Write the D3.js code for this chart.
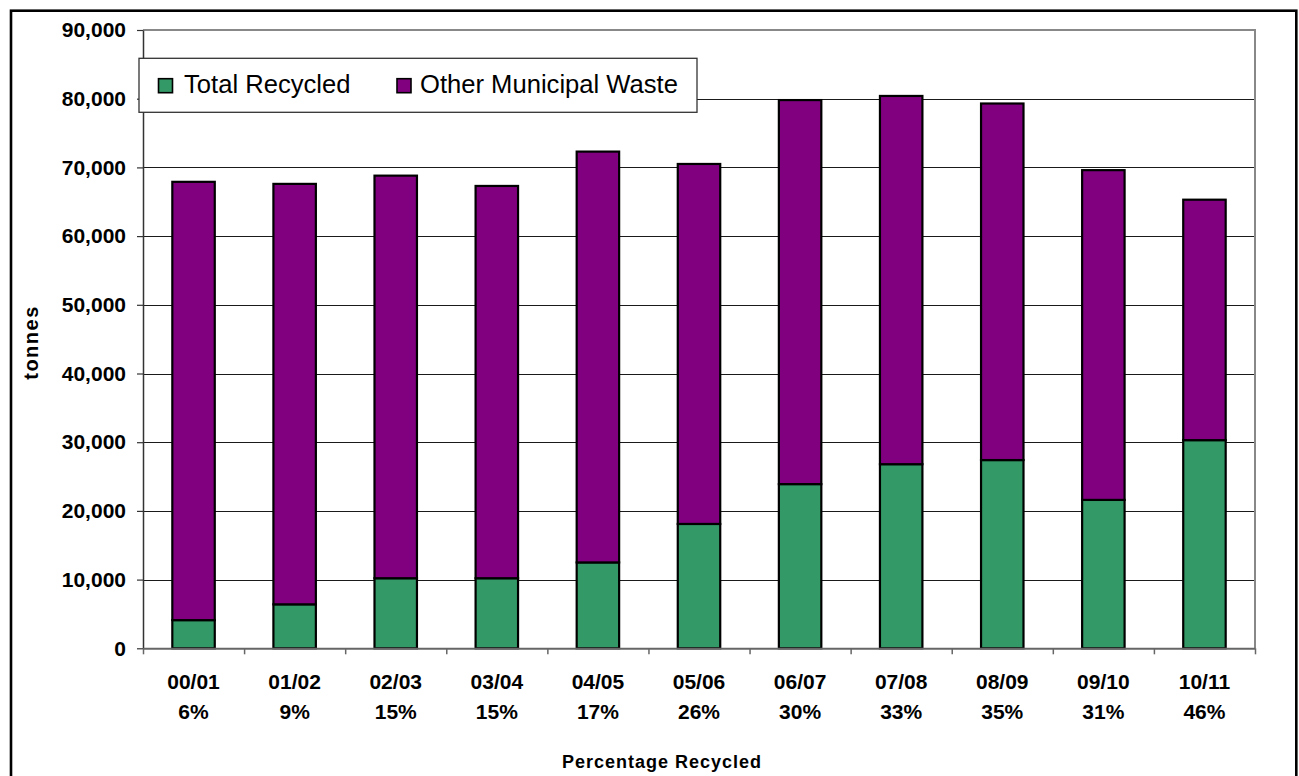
<!DOCTYPE html>
<html>
<head>
<meta charset="utf-8">
<script src="https://cdn.jsdelivr.net/npm/d3@7"></script>
<style>
  html, body { margin: 0; padding: 0; background: #fff; }
  svg { display: block; font-family: "Liberation Sans", Arial, sans-serif; }
</style>
</head>
<body>
<svg id="chart" width="1299" height="776"></svg>
<script>
// Municipal waste by financial year (tonnes)
const years = ["00/01", "01/02", "02/03", "03/04", "04/05", "05/06", "06/07", "07/08", "08/09", "09/10", "10/11"];
const pctRecycled = ["6%", "9%", "15%", "15%", "17%", "26%", "30%", "33%", "35%", "31%", "46%"];
const totalRecycled = [4100, 6400, 10200, 10200, 12500, 18100, 23900, 26800, 27400, 21600, 30300];
const otherWaste = [63800, 61200, 58600, 57100, 59800, 52400, 55900, 53600, 51900, 48000, 35000];
const seriesNames = ["Total Recycled", "Other Municipal Waste"];
const seriesColors = ["#339966", "#800080"];
const yTicks = [0, 10000, 20000, 30000, 40000, 50000, 60000, 70000, 80000, 90000];

const svg = d3.select("#chart");
const plot = { left: 143, right: 1255, top: 30, bottom: 648.3 };

// outer frame
svg.append("rect")
  .attr("x", 11).attr("y", 10.7)
  .attr("width", 1285.3).attr("height", 820)
  .attr("fill", "none").attr("stroke", "#000").attr("stroke-width", 2.6);

const x = d3.scaleBand()
  .domain(years)
  .range([plot.left, plot.right])
  .paddingInner(0.58)
  .paddingOuter(0.29);

const xEdges = d3.scaleLinear().domain([0, years.length]).range([plot.left, plot.right]);

const y = d3.scaleLinear().domain([0, 90000]).range([plot.bottom, plot.top]);

// gridlines
svg.append("g")
  .selectAll("line")
  .data(yTicks.filter(v => v > 0 && v < 90000))
  .join("line")
  .attr("x1", plot.left).attr("x2", plot.right)
  .attr("y1", d => Math.round(y(d)) + 0.5).attr("y2", d => Math.round(y(d)) + 0.5)
  .attr("stroke", "#1a1a1a").attr("stroke-width", 1.2);

// plot-area border (top and right)
svg.append("path")
  .attr("d", `M${plot.left},${plot.top}H${plot.right}V${plot.bottom}`)
  .attr("fill", "none").attr("stroke", "#888").attr("stroke-width", 2);

// stacked bars
const rows = years.map((yr, i) => ({ year: yr, recycled: totalRecycled[i], other: otherWaste[i] }));
const stack = d3.stack().keys(["recycled", "other"]);
const layers = stack(rows);

svg.append("g")
  .selectAll("g")
  .data(layers)
  .join("g")
  .attr("fill", (d, i) => seriesColors[i])
  .selectAll("rect")
  .data(d => d)
  .join("rect")
  .attr("x", d => x(d.data.year))
  .attr("y", d => y(d[1]))
  .attr("width", x.bandwidth())
  .attr("height", d => y(d[0]) - y(d[1]))
  .attr("stroke", "#000")
  .attr("stroke-width", 2.2);

// y axis
const yAxis = svg.append("g")
  .attr("transform", `translate(${plot.left},0)`)
  .call(d3.axisLeft(y).tickValues(yTicks).tickFormat(d3.format(",")).tickSize(6).tickPadding(11).tickSizeOuter(0));
yAxis.select(".domain").attr("stroke", "#333").attr("stroke-width", 1.5);
yAxis.selectAll(".tick line").attr("stroke", "#333").attr("stroke-width", 1.2);
yAxis.selectAll(".tick text")
  .attr("font-size", "21px").attr("font-weight", "bold").attr("fill", "#000")
  .attr("font-family", "'Liberation Sans', Arial, sans-serif");

// x axis: ticks on category boundaries
const xAxis = svg.append("g")
  .attr("transform", `translate(0,${plot.bottom})`)
  .call(d3.axisBottom(xEdges).tickValues(d3.range(years.length + 1)).tickFormat("").tickSize(6).tickSizeOuter(0));
xAxis.select(".domain").attr("stroke", "#666").attr("stroke-width", 2);
xAxis.selectAll(".tick line").attr("stroke", "#666").attr("stroke-width", 1.5);

// category labels (year + percentage recycled)
const catLabels = svg.append("g")
  .attr("font-size", "21px").attr("font-weight", "bold").attr("text-anchor", "middle");
catLabels.selectAll("text.yr")
  .data(years)
  .join("text")
  .attr("class", "yr")
  .attr("x", d => x(d) + x.bandwidth() / 2)
  .attr("y", 688.5)
  .text(d => d);
catLabels.selectAll("text.pct")
  .data(pctRecycled)
  .join("text")
  .attr("class", "pct")
  .attr("x", (d, i) => x(years[i]) + x.bandwidth() / 2)
  .attr("y", 718.5)
  .text(d => d);

// axis titles
svg.append("text")
  .attr("x", 662).attr("y", 767.5)
  .attr("text-anchor", "middle")
  .attr("font-size", "18px").attr("font-weight", "bold").attr("letter-spacing", "1px")
  .text("Percentage Recycled");

svg.append("text")
  .attr("transform", "translate(37.5,342.5) rotate(-90)")
  .attr("text-anchor", "middle")
  .attr("font-size", "20px").attr("font-weight", "bold").attr("letter-spacing", "1.5px")
  .text("tonnes");

// legend
const legend = svg.append("g");
legend.append("rect")
  .attr("x", 139).attr("y", 58.3).attr("width", 558).attr("height", 54)
  .attr("fill", "#fff").attr("stroke", "#333").attr("stroke-width", 1.3);
const legendItems = [
  { name: seriesNames[0], color: seriesColors[0], sx: 158.5, tx: 184 },
  { name: seriesNames[1], color: seriesColors[1], sx: 397, tx: 420 }
];
legendItems.forEach(it => {
  legend.append("rect")
    .attr("x", it.sx).attr("y", 78.7).attr("width", 14).attr("height", 14)
    .attr("fill", it.color).attr("stroke", "#000").attr("stroke-width", 1.6);
  legend.append("text")
    .attr("x", it.tx).attr("y", 93)
    .attr("font-size", "25.6px")
    .text(it.name);
});
</script>
</body>
</html>
